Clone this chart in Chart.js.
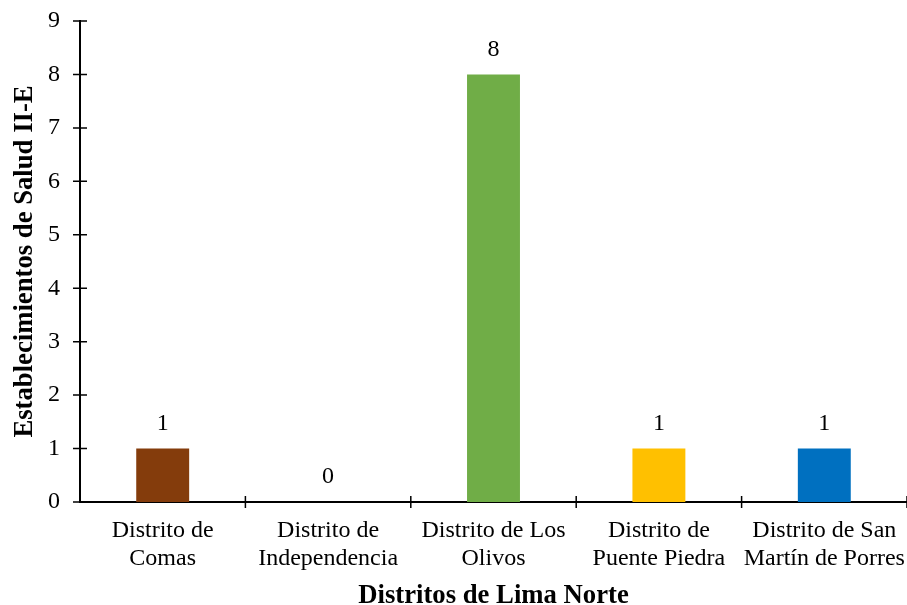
<!DOCTYPE html>
<html>
<head>
<meta charset="utf-8">
<script src="https://cdn.jsdelivr.net/npm/chart.js@4.4.1/dist/chart.umd.min.js"></script>
<style>
  html, body { margin: 0; padding: 0; background: #fff; }
  #wrap { width: 907px; height: 605px; position: relative; }
</style>
</head>
<body>
<div id="wrap"><canvas id="c"></canvas></div>
<script>
const categories = [
  ['Distrito de', 'Comas'],
  ['Distrito de', 'Independencia'],
  ['Distrito de Los', 'Olivos'],
  ['Distrito de', 'Puente Piedra'],
  ['Distrito de San', 'Martín de Porres']
];
const establishments = [1, 0, 8, 1, 1];
const barColors = ['#843C0C', '#A5A5A5', '#70AD47', '#FFC000', '#0070C0'];
const yTicks = [0, 1, 2, 3, 4, 5, 6, 7, 8, 9];

const serif = "'Liberation Serif', 'Times New Roman', serif";

// Tick marks that cross the axis line (both sides)
const crossTicks = {
  id: 'crossTicks',
  afterDraw(chart) {
    const ctx = chart.ctx;
    const x = chart.scales.x, y = chart.scales.y;
    ctx.save();
    ctx.strokeStyle = '#000';
    ctx.lineWidth = 1.5;
    ctx.beginPath();
    y.ticks.forEach((t, i) => {
      const py = y.getPixelForTick(i);
      ctx.moveTo(y.right - 7, py);
      ctx.lineTo(y.right + 7, py);
    });
    const n = x.ticks.length;
    for (let i = 1; i <= n; i++) {
      const px = x.left + (x.right - x.left) * i / n;
      ctx.moveTo(px, x.top - 6);
      ctx.lineTo(px, x.top + 6);
    }
    ctx.stroke();
    ctx.restore();
  }
};

// Value labels above each bar
const valueLabels = {
  id: 'valueLabels',
  afterDatasetsDraw(chart) {
    const ctx = chart.ctx;
    const meta = chart.getDatasetMeta(0);
    ctx.save();
    ctx.fillStyle = '#000';
    ctx.font = '24px ' + serif;
    ctx.textAlign = 'center';
    ctx.textBaseline = 'middle';
    meta.data.forEach((bar, i) => {
      ctx.fillText(String(establishments[i]), bar.x, bar.y - 25);
    });
    ctx.restore();
  }
};

new Chart(document.getElementById('c'), {
  type: 'bar',
  data: {
    labels: categories,
    datasets: [{
      data: establishments,
      backgroundColor: barColors,
      borderWidth: 0,
      categoryPercentage: 1,
      barPercentage: 0.32
    }]
  },
  options: {
    responsive: true,
    maintainAspectRatio: false,
    animation: false,
    devicePixelRatio: 1,
    layout: { padding: { top: 21, right: 0, left: 0, bottom: 0 } },
    plugins: { legend: { display: false }, tooltip: { enabled: false } },
    scales: {
      x: {
        grid: { display: false, drawTicks: true, tickLength: 15 },
        border: { display: true, color: '#000', width: 2 },
        ticks: { color: '#000', font: { family: serif, size: 24, lineHeight: 1.15 }, padding: 0, maxRotation: 0, autoSkip: false },
        title: {
          display: true, text: 'Distritos de Lima Norte', color: '#000',
          font: { family: serif, size: 26.7, weight: 'bold', lineHeight: 0.7 }, padding: { top: 0, bottom: 0 }
        },
        afterFit(s) { s.height = 103; }
      },
      y: {
        min: 0, max: 9,
        afterBuildTicks(s) { s.ticks = yTicks.map(v => ({ value: v })); },
        grid: { display: false, drawTicks: true, tickLength: 16 },
        border: { display: true, color: '#000', width: 2 },
        ticks: { color: '#000', font: { family: serif, size: 24 }, padding: 4 },
        title: {
          display: true, text: 'Establecimientos de Salud II-E', color: '#000',
          font: { family: serif, size: 26.7, weight: 'bold', lineHeight: 0.9 }, padding: { top: 13, bottom: 0 }
        },
        afterFit(s) { s.width = 80; }
      }
    }
  },
  plugins: [crossTicks, valueLabels]
});
</script>
</body>
</html>
